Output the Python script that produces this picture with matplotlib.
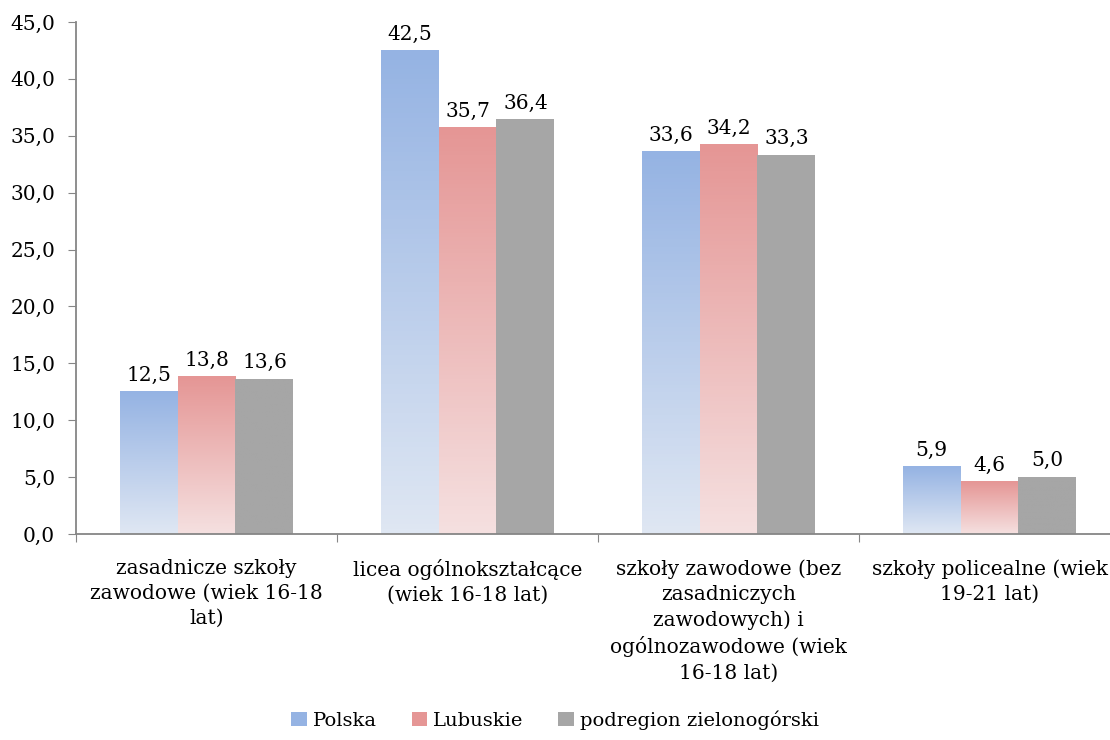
import numpy as np
import matplotlib
matplotlib.use("Agg")
from matplotlib import pyplot as plt
from matplotlib.colors import LinearSegmentedColormap
from matplotlib.patches import Rectangle

categories = [
    "zasadnicze szkoły\nzawodowe (wiek 16-18\nlat)",
    "licea ogólnokształcące\n(wiek 16-18 lat)",
    "szkoły zawodowe (bez\nzasadniczych\nzawodowych) i\nogólnozawodowe (wiek\n16-18 lat)",
    "szkoły policealne (wiek\n19-21 lat)",
]
series = ["Polska", "Lubuskie", "podregion zielonogórski"]
polska = [12.5, 42.5, 33.6, 5.9]
lubuskie = [13.8, 35.7, 34.2, 4.6]
zielonogorski = [13.6, 36.4, 33.3, 5.0]

# top colour, bottom colour for each series (gray is flat)
grads = [("#95b3e3", "#dfe7f3"), ("#e59695", "#f5e0e0"), ("#a6a6a6", "#a6a6a6")]

plt.rcParams["font.family"] = ["DejaVu Serif"]
plt.rcParams["font.size"] = 14.5

fig = plt.figure(figsize=(11.1, 7.4), dpi=100)
ax = fig.add_axes([76 / 1110, 206 / 740, 1044 / 1110, 512 / 740])

w = 0.222
x = np.arange(len(categories))
values = [polska, lubuskie, zielonogorski]

for i, (vals, (top, bot)) in enumerate(zip(values, grads)):
    cmap = LinearSegmentedColormap.from_list("g%d" % i, [bot, top])
    for xi, v in zip(x, vals):
        x0 = xi + (i - 1) * w - w / 2
        grad = np.linspace(1, 0, 100).reshape(-1, 1)
        ax.imshow(grad, extent=[x0, x0 + w, 0, v], aspect="auto",
                  cmap=cmap, vmin=0, vmax=1, zorder=2)
        ax.annotate(f"{v:.1f}".replace(".", ","), (x0 + w / 2, v),
                    xytext=(0, 5), textcoords="offset points",
                    ha="center", va="bottom")

ax.set_xlim(-0.5, len(categories) - 0.5)
ax.set_ylim(0, 45)
ax.set_yticks(np.arange(0, 46, 5))
ax.set_yticklabels([f"{t:.1f}".replace(".", ",") for t in np.arange(0, 46, 5)])

ax.set_xticks(np.arange(-0.5, len(categories), 1))
ax.set_xticklabels([])
ax.set_xticks(x, minor=True)
ax.set_xticklabels(categories, minor=True, fontsize=14.5, linespacing=1.4)
ax.tick_params(axis="x", which="minor", length=0, pad=18)
ax.tick_params(axis="x", which="major", length=6, color="#868686")
ax.tick_params(axis="y", length=6, color="#868686", pad=9)

for s in ["top", "right"]:
    ax.spines[s].set_visible(False)
for s in ["left", "bottom"]:
    ax.spines[s].set_color("#868686")
    ax.spines[s].set_linewidth(1.3)

handles = []
for (top, bot), name in zip(grads, series):
    handles.append(Rectangle((0, 0), 1, 1, facecolor=top, edgecolor="none", label=name))
fig.legend(handles=handles, loc="center", bbox_to_anchor=(0.5, 0.027),
           ncol=3, frameon=False, handlelength=0.8, handleheight=0.8,
           columnspacing=1.8, handletextpad=0.3, fontsize=14)

fig.savefig("out.png", dpi=100)
